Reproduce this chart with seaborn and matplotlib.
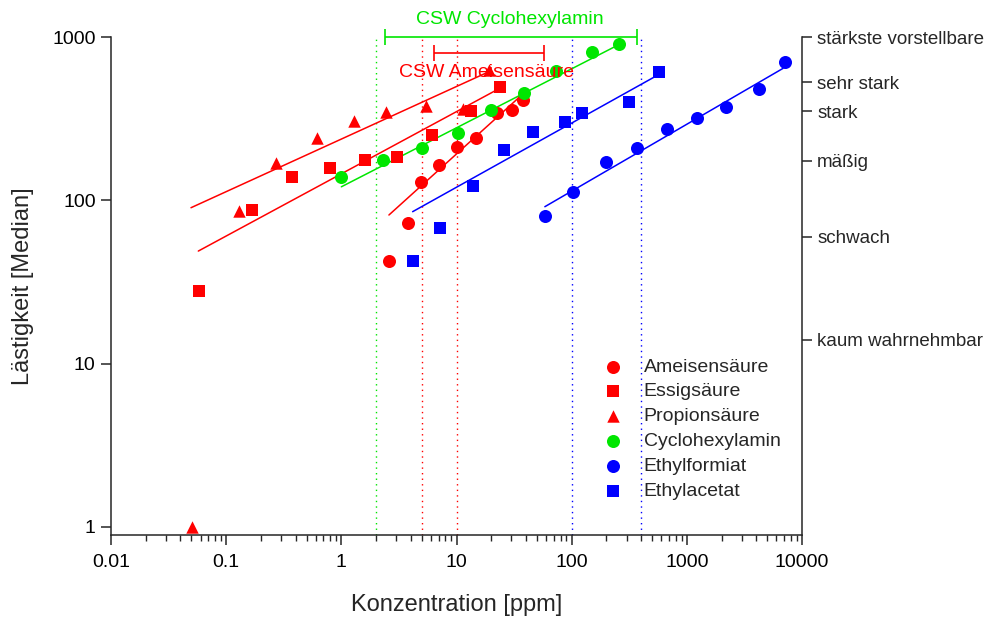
import matplotlib
matplotlib.use("Agg")
import matplotlib.pyplot as plt
from matplotlib.ticker import FixedLocator, NullLocator, LogLocator, FuncFormatter, NullFormatter
import seaborn as sns

# Messpunkte: Konzentration [ppm] und Lästigkeit (Median)
ameisen_x = [2.59, 3.81, 4.91, 7.08, 10.1, 14.7, 22.3, 30.1, 37.9]
ameisen_y = [42.7, 72.9, 130, 164.5, 211, 240, 341, 357, 411]
essig_x = [0.0581, 0.1665, 0.3725, 0.791, 1.60, 3.02, 6.08, 13.3, 23.7]
essig_y = [27.8, 87.2, 139.5, 157, 176.5, 185, 251, 354, 496]
propion_x = [0.0502, 0.130, 0.269, 0.614, 1.29, 2.44, 5.42, 11.4, 19.1]
propion_y = [1.0, 86.0, 170, 240, 306, 349, 378, 362, 628]
cyclo_x = [1.00, 2.28, 5.04, 10.35, 19.9, 38.5, 72.9, 149, 257]
cyclo_y = [139.5, 176.5, 208, 259, 357, 456, 622, 813, 906]
formiat_x = [58.5, 103, 198, 366, 666, 1229, 2180, 4217, 7091]
formiat_y = [80.5, 113, 172, 210, 273, 318, 374, 480, 700]
acetat_x = [4.16, 7.18, 13.8, 25.8, 46.3, 87.3, 122, 316, 575]
acetat_y = [42.7, 67.4, 123, 203, 263, 303, 341, 402, 608]

# Regressionsgeraden (Anfangs- und Endpunkt)
ameisen_fit_x = [2.59, 35.5]
ameisen_fit_y = [81.3, 431]
essig_fit_x = [0.0573, 23.7]
essig_fit_y = [48.9, 485]
propion_fit_x = [0.0495, 19.1]
propion_fit_y = [90.1, 613]
cyclo_fit_x = [1.0, 253]
cyclo_fit_y = [121, 893]
formiat_fit_x = [58.5, 6855]
formiat_fit_y = [91.4, 643]
acetat_fit_x = [4.16, 527]
acetat_fit_y = [85.2, 571]

# Bereiche CSW
csw_cyclo_range = [2.39, 366]
csw_cyclo_level = 1000
csw_ameisen_range = [6.4, 57.4]
csw_ameisen_level = 794

# Senkrechte Markierungen
marks_green = [2]
marks_red = [5, 10]
marks_blue = [100, 400]

# Verbale Skala (rechte Achse)
scale_values = [1000, 530, 350, 175, 60, 14]
scale_labels = ["stärkste vorstellbare", "sehr stark", "stark", "mäßig",
                "schwach", "kaum wahrnehmbar"]

x_ticks = [0.01, 0.1, 1, 10, 100, 1000, 10000]
y_ticks = [1, 10, 100, 1000]

RED = "#ff0000"
GREEN = "#00e600"
BLUE = "#0000ff"
AXIS = "#262626"

sns.set_style("ticks")
plt.rcParams["font.family"] = ["Liberation Sans", "DejaVu Sans"]

fig = plt.figure(figsize=(9.94, 6.17), dpi=100)
ax = fig.add_axes([111 / 994, 1 - 535 / 617, (802 - 111) / 994, (535 - 37) / 617])
ax.set_xscale("log")
ax.set_yscale("log")
ax.set_xlim(0.01, 10000)
ax.set_ylim(0.893, 1000)

# Senkrechte punktierte Linien
for xs, col in ((marks_green, GREEN), (marks_red, RED), (marks_blue, BLUE)):
    for xv in xs:
        ax.axvline(xv, color=col, lw=1.0, ls=(0, (1, 3)), zorder=1)

series = [
    ("Ameisensäure", ameisen_x, ameisen_y, ameisen_fit_x, ameisen_fit_y, RED, "o", 88),
    ("Essigsäure", essig_x, essig_y, essig_fit_x, essig_fit_y, RED, "s", 70),
    ("Propionsäure", propion_x, propion_y, propion_fit_x, propion_fit_y, RED, "^", 80),
    ("Cyclohexylamin", cyclo_x, cyclo_y, cyclo_fit_x, cyclo_fit_y, GREEN, "o", 88),
    ("Ethylformiat", formiat_x, formiat_y, formiat_fit_x, formiat_fit_y, BLUE, "o", 88),
    ("Ethylacetat", acetat_x, acetat_y, acetat_fit_x, acetat_fit_y, BLUE, "s", 70),
]

for name, xs, ys, fx, fy, col, mk, size in series:
    sns.lineplot(x=fx, y=fy, ax=ax, color=col, lw=1.1, sort=False,
                 estimator=None, legend=False, zorder=2)
    sns.scatterplot(x=xs, y=ys, ax=ax, color=col, marker=mk, s=size,
                    linewidth=0, label=name, zorder=3, clip_on=False)

# CSW-Bereiche als Klammern
for rng, lvl, col in ((csw_cyclo_range, csw_cyclo_level, GREEN),
                      (csw_ameisen_range, csw_ameisen_level, RED)):
    cx = (rng[0] * rng[1]) ** 0.5
    ax.errorbar([cx], [lvl], xerr=[[cx - rng[0]], [rng[1] - cx]], fmt="none",
                ecolor=col, elinewidth=1.2, capsize=5.5, capthick=1.2,
                clip_on=False, zorder=4)

ax.text(29.1, 1288, "CSW Cyclohexylamin", color=GREEN, fontsize=14,
        ha="center", va="center", clip_on=False)
ax.text(18.4, 602, "CSW Ameisensäure", color=RED, fontsize=14,
        ha="center", va="center", clip_on=False)

# Achsen
for side in ("left", "bottom", "right"):
    ax.spines[side].set_color(AXIS)
    ax.spines[side].set_linewidth(1.1)
ax.spines["top"].set_visible(False)
ax.spines["right"].set_visible(False)

ax.xaxis.set_major_locator(FixedLocator(x_ticks))
ax.xaxis.set_minor_locator(LogLocator(base=10, subs=range(2, 10), numticks=20))
ax.xaxis.set_minor_formatter(NullFormatter())
ax.xaxis.set_major_formatter(FuncFormatter(lambda v, p: f"{v:g}"))
ax.yaxis.set_major_locator(FixedLocator(y_ticks))
ax.yaxis.set_minor_locator(NullLocator())
ax.yaxis.set_major_formatter(FuncFormatter(lambda v, p: f"{v:g}"))
ax.tick_params(axis="both", which="major", direction="out", length=7, width=1.1,
               color=AXIS, labelsize=14, labelcolor="black", pad=7)
ax.tick_params(axis="x", which="minor", direction="out", length=4, width=1.0,
               color=AXIS)
ax.tick_params(axis="y", pad=4)

ax.set_xlabel("Konzentration [ppm]", fontsize=17, labelpad=16)
ax.set_ylabel("Lästigkeit [Median]", fontsize=17, labelpad=13)

# Rechte Achse mit verbaler Skala
ax2 = ax.twinx()
ax2.set_yscale("log")
ax2.set_ylim(ax.get_ylim())
ax2.yaxis.set_major_locator(FixedLocator(scale_values))
ax2.yaxis.set_minor_locator(NullLocator())
ax2.set_yticklabels(scale_labels)
for side in ("left", "bottom", "top"):
    ax2.spines[side].set_visible(False)
ax2.spines["right"].set_color(AXIS)
ax2.spines["right"].set_linewidth(1.1)
ax2.tick_params(axis="y", direction="out", length=7, width=1.1, color=AXIS,
                labelsize=13.5, pad=4)

handles, labels = ax.get_legend_handles_labels()
ax.legend(handles, labels, loc="upper left", bbox_to_anchor=(603 / 994, 1 - 358 / 617),
          bbox_transform=fig.transFigure, frameon=False, fontsize=14,
          handlelength=1.0, handletextpad=1.1, labelspacing=0.37,
          borderpad=0, borderaxespad=0)

fig.savefig("out.png", dpi=100)
